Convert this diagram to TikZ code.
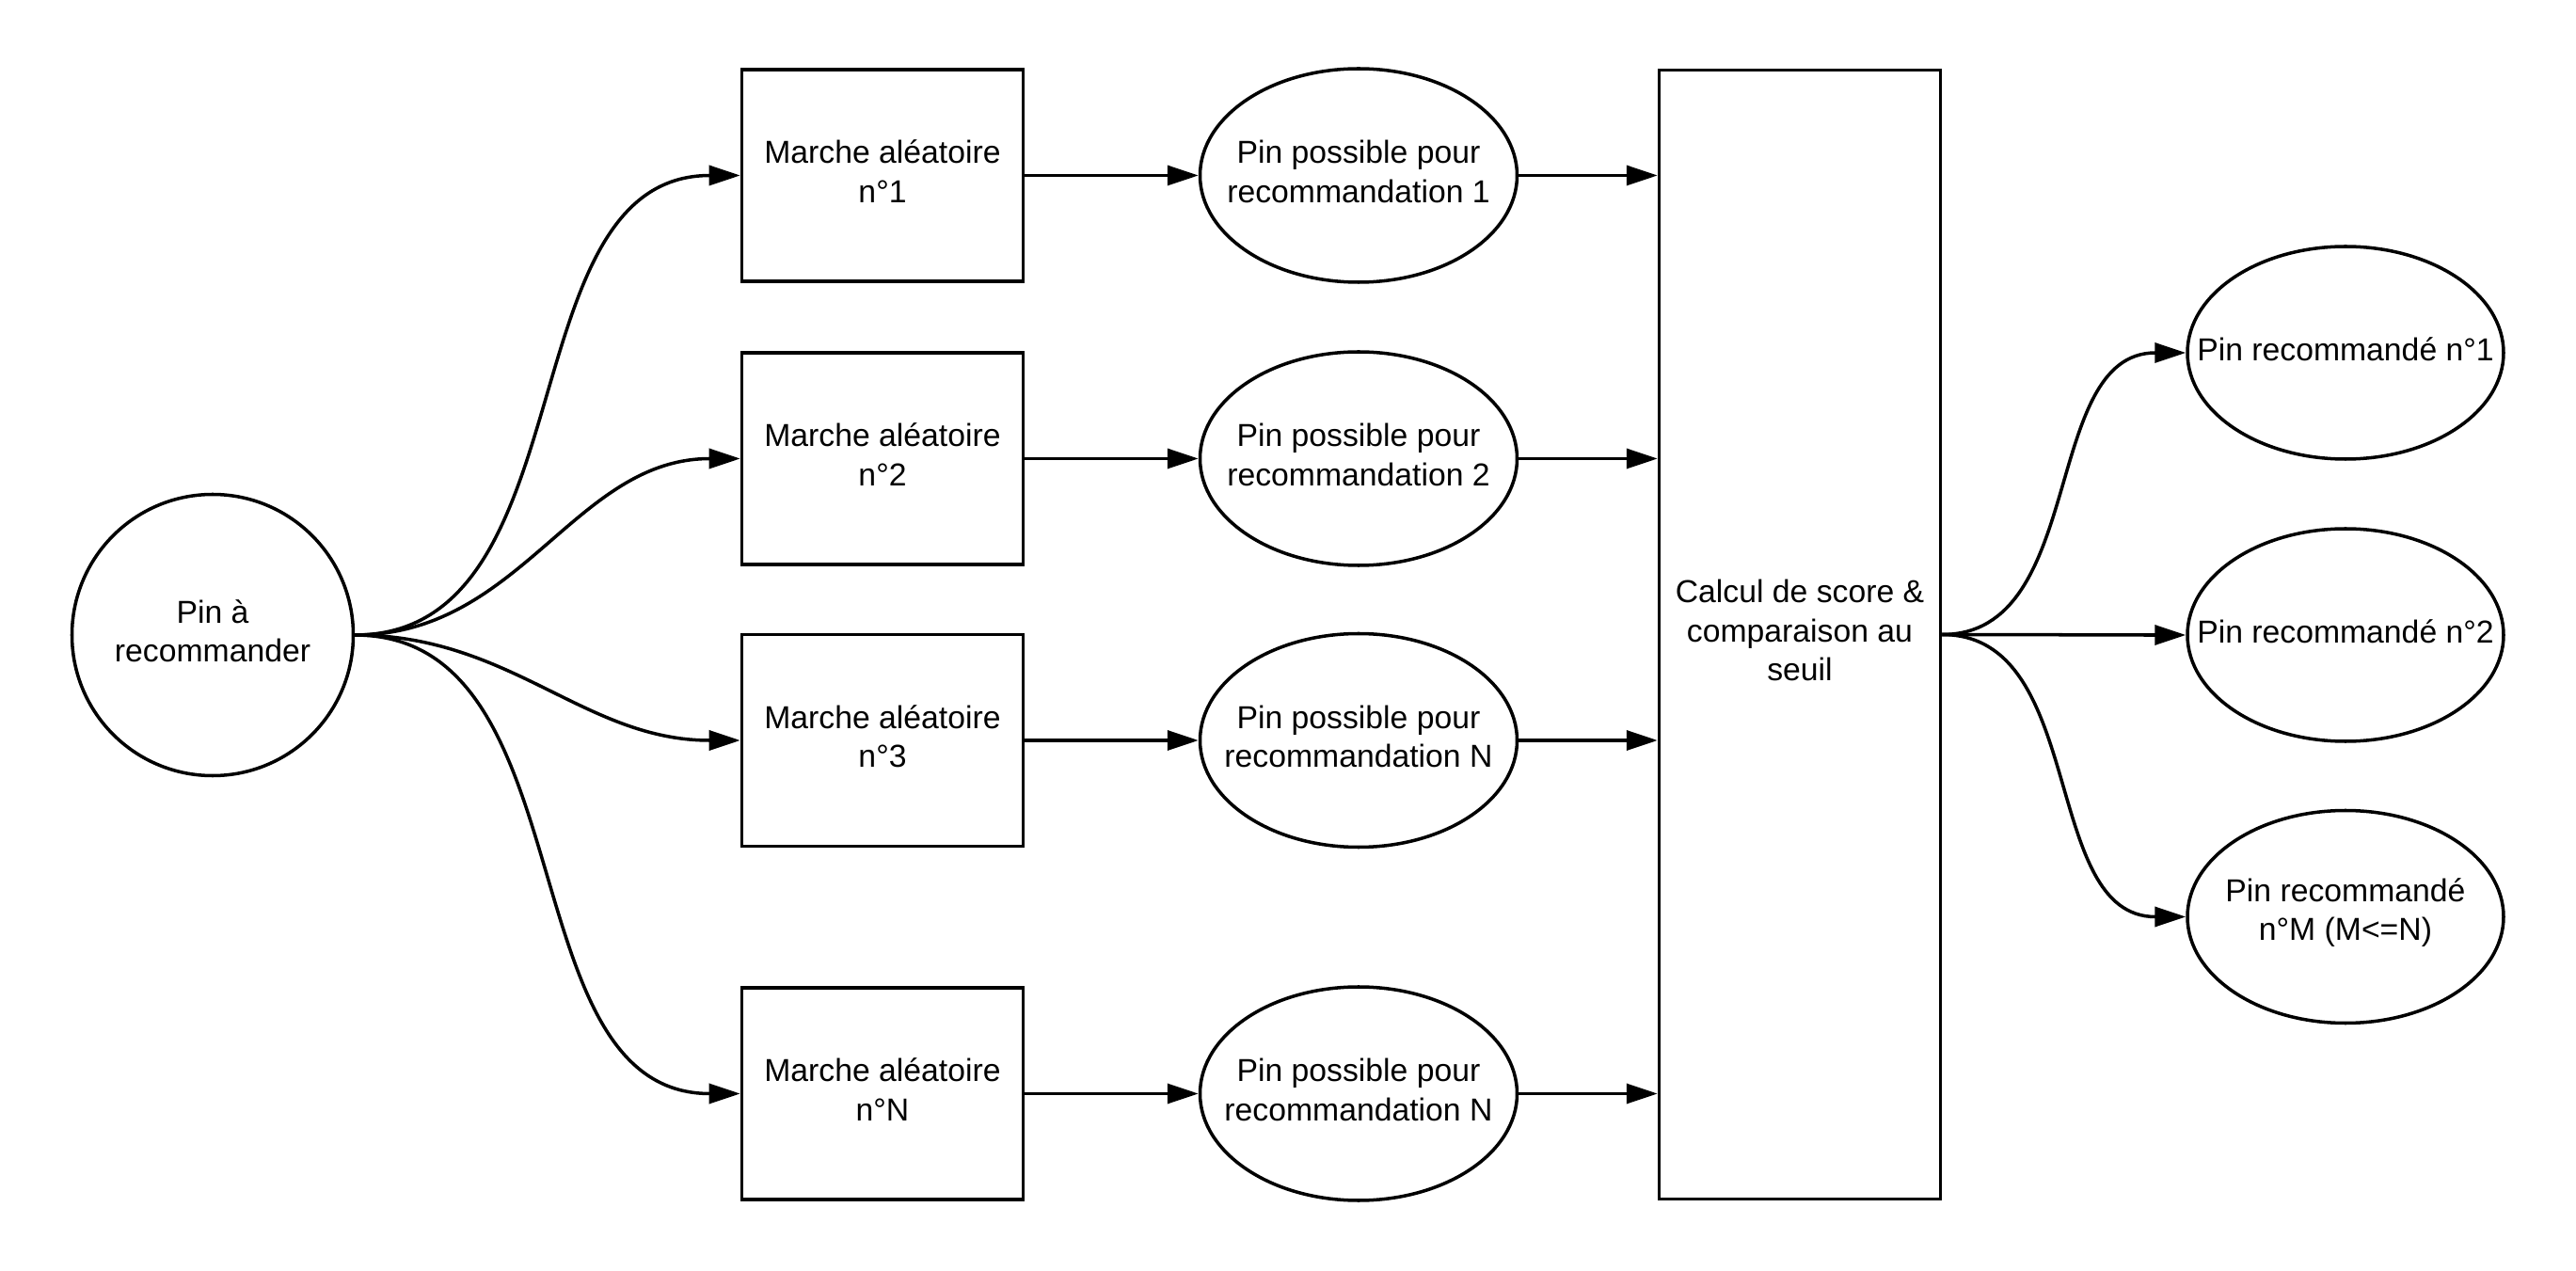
\documentclass[tikz,border=0pt]{standalone}
\usepackage{fontspec}
\setmainfont{Liberation Sans}
\usetikzlibrary{shapes.geometric,arrows.meta}

\begin{document}
\begin{tikzpicture}[
        font=\fontsize{9.6pt}{11.8pt}\selectfont,
        line width=1pt,
        >={Triangle[length=3.3mm,width=2.1mm]},
        txt/.style={align=center, yshift=1.2pt},
        walk/.style={draw, rectangle, minimum width=2.99cm, minimum height=2.25cm, inner sep=0pt, label={[txt]center:#1}},
        possible/.style={draw, ellipse, minimum width=3.37cm, minimum height=2.27cm, inner sep=0pt, label={[txt]center:#1}},
        reco/.style={draw, ellipse, minimum width=3.36cm, minimum height=2.26cm, inner sep=0pt, label={[txt]center:#1}}
    ]
        \useasboundingbox (0,0) rectangle (27.38,13.5);
        \node[draw, circle, minimum size=2.99cm, inner sep=0pt, label={[txt]center:Pin à\\recommander}] (pin) at (2.26,6.75) {};
        \node[walk={Calcul de score \&\\comparaison au\\seuil}, minimum height=12cm] (score) at (19.13,6.755) {};
        \foreach \n/\y/\w/\p in {1/11.635/1/1, 2/8.625/2/2, 3/5.63/3/N, 4/1.875/N/N} {
            \node[walk={Marche aléatoire\\n°\w}] (walk\n) at (9.38,\y) {};
            \node[possible={Pin possible pour\\recommandation \p}] (poss\n) at (14.44,\y) {};
            \draw[->] (pin.east) to[out=0,in=180] (walk\n.west);
            \draw[->] (walk\n.east) -- (poss\n.west);
            \draw[->] (poss\n.east) -- (poss\n.east -| score.west);
        }
        \node[reco={Pin recommandé n°1}] (rec1) at (24.93,9.75) {};
        \node[reco={Pin recommandé n°2}] (rec2) at (24.93,6.75) {};
        \node[reco={Pin recommandé\\n°M (M<=N)}] (rec3) at (24.93,3.755) {};
        \foreach \n in {1,2,3} {
            \draw[->] (score.east) to[out=0,in=180] (rec\n.west);
        }
    \end{tikzpicture}
\end{document}
